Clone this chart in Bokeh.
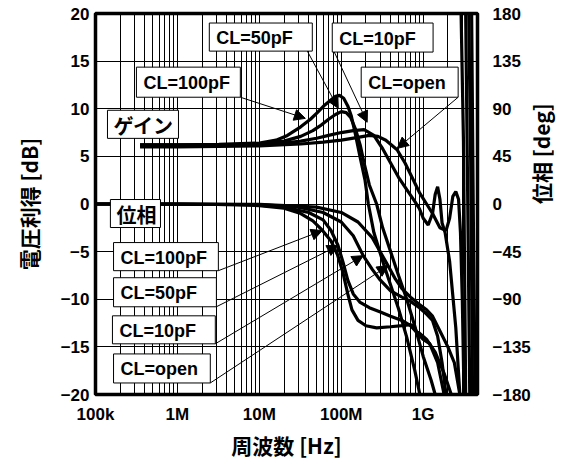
import math
from bokeh.plotting import figure
from bokeh.models import Range1d, LinearAxis, FixedTicker, Arrow, NormalHead
from bokeh.embed import file_html
from bokeh.resources import INLINE
from bokeh.core.properties import value

# ---------------- data ----------------
freq_ticks = [1e5, 1e6, 1e7, 1e8, 1e9]
freq_tick_labels = ["100k", "1M", "10M", "100M", "1G"]
gain_ticks = [-20, -15, -10, -5, 0, 5, 10, 15, 20]
phase_ticks = [-180, -135, -90, -45, 0, 45, 90, 135, 180]

# gain [dB]
g100_f = [3.5e5, 1e6, 3.2e6, 1e7, 1.6e7, 2.2e7, 3.2e7, 4.2e7, 5.1e7, 6.3e7, 7.4e7, 8.5e7, 9.5e7,
          1.07e8, 1.2e8, 1.32e8, 1.48e8, 1.7e8, 1.95e8, 2.14e8, 2.5e8, 3.2e8, 4e8, 5e8, 6.3e8, 7.9e8, 9.1e8]
g100_db = [6.2, 6.2, 6.25, 6.4, 6.7, 7.2, 8.1, 8.9, 9.6, 10.4, 10.9, 11.3, 11.4,
           11.1, 10.3, 9.3, 7.4, 4.9, 2.5, 0.0, -3.0, -6.0, -8.5, -11.0, -14.0, -17.5, -20.0]

g50_f = [3.5e5, 1e6, 3.2e6, 1e7, 2e7, 3.2e7, 4.5e7, 5.5e7, 7e7, 8.5e7, 1e8, 1.15e8, 1.3e8,
         1.5e8, 1.7e8, 1.9e8, 2.2e8, 2.7e8, 3.2e8, 4e8, 5e8, 6.3e8, 8e8, 1e9, 1.25e9, 1.4e9]
g50_db = [6.2, 6.2, 6.2, 6.3, 6.6, 7.1, 7.7, 8.2, 8.9, 9.4, 9.7, 9.6, 9.1,
          7.8, 6.2, 4.3, 2.0, 0.0, -2.5, -5.0, -7.5, -10.0, -13.0, -16.0, -18.5, -20.0]

g10_f = [3.5e5, 1e6, 3.2e6, 1e7, 2e7, 3.2e7, 5e7, 7e7, 1e8, 1.4e8, 1.9e8, 2.5e8, 3.2e8, 4e8,
         5e8, 6.3e8, 8e8, 9e8, 1e9, 1.15e9, 1.3e9, 1.4e9, 1.5e9, 1.6e9, 1.7e9, 1.85e9, 2.1e9, 2.5e9, 2.8e9]
g10_db = [6.1, 6.1, 6.15, 6.2, 6.4, 6.6, 6.9, 7.2, 7.5, 7.7, 7.8, 7.2, 5.8, 4.3,
          2.8, 1.5, 0.2, -0.5, -1.5, -2.2, -1.0, 1.0, 1.8, 0.5, -2.0, -3.0, -6.0, -13.0, -20.0]

gopen_f = [3.5e5, 1e6, 3.2e6, 1e7, 3.2e7, 6e7, 1e8, 1.6e8, 2.2e8, 2.8e8, 3.5e8, 4.8e8, 6e8,
           7.5e8, 9e8, 1.1e9, 1.3e9, 1.6e9, 1.9e9, 2.1e9, 2.3e9, 2.5e9, 2.7e9, 2.85e9, 3e9, 3.15e9]
gopen_db = [6.0, 6.0, 6.05, 6.1, 6.3, 6.5, 6.7, 7.0, 7.2, 7.1, 6.7, 5.7, 4.3,
            2.6, 1.2, 0.0, -1.0, -2.5, -2.8, -1.5, 0.8, 1.3, 0.5, -3.0, -10.0, -20.0]

# phase [deg]
p100_f = [1e5, 1e6, 5e6, 1e7, 2e7, 3.2e7, 4.5e7, 5.9e7, 7.5e7, 9e7, 1.05e8, 1.2e8, 1.35e8, 1.6e8,
          2e8, 2.7e8, 4e8, 5.5e8, 7e8, 7.8e8, 8.3e8, 9e8, 1.1e9, 1.4e9, 1.8e9, 2.2e9]
p100_deg = [0, 0, -0.5, -1.5, -4, -9, -16, -25, -35, -48, -65, -85, -100, -110,
            -115, -117, -116, -115, -114, -116, -121, -122, -128, -140, -160, -180]

p50_f = [1e5, 1e6, 1e7, 2e7, 4e7, 6e7, 7.5e7, 9.1e7, 1.05e8, 1.2e8, 1.4e8, 1.7e8, 2.2e8, 3e8,
         4e8, 5.5e8, 7e8, 8.5e8, 1e9, 1.2e9, 1.5e9, 1.8e9]
p50_deg = [0, 0, -1, -3, -8, -15, -25, -39, -55, -72, -85, -93, -98, -102,
           -106, -110, -115, -122, -128, -132, -150, -180]

p10_f = [1e5, 1e7, 3e7, 6e7, 1e8, 1.4e8, 1.86e8, 2.4e8, 3e8, 4e8, 5.5e8, 7e8, 9e8, 1.1e9,
         1.3e9, 1.5e9, 1.7e9, 1.9e9]
p10_deg = [0, -0.5, -3, -8, -17, -30, -49, -62, -72, -82, -88, -92, -98, -104,
           -110, -125, -150, -180]

popen_f = [1e5, 1e7, 5e7, 1e8, 1.6e8, 2.4e8, 3.7e8, 4.5e8, 5.5e8, 7e8, 9e8, 1.1e9, 1.3e9,
           1.6e9, 2e9, 2.4e9, 2.8e9]
popen_deg = [0, -0.3, -3, -8, -17, -32, -58, -70, -80, -88, -95, -100, -106,
             -120, -135, -150, -180]

# phase wrapped back from +180 near the top of the band
wrap_f = [[2.9e9, 3.1e9, 3.3e9], [3.3e9, 3.5e9, 3.7e9], [3.6e9, 3.8e9, 4.0e9], [3.9e9, 4.1e9, 4.3e9]]
wrap_deg = [[180, 60, -180], [180, 0, -180], [180, 40, -180], [180, -20, -180]]

# annotation boxes
box_text = ["CL=50pF", "CL=10pF", "CL=100pF", "CL=open", "ゲイン", "位相",
            "CL=100pF", "CL=50pF", "CL=10pF", "CL=open"]
box_left = [2.45e6, 7.76e7, 3.16e5, 1.75e8, 1.4e5, 1.52e5, 1.66e5, 1.66e5, 1.61e5, 1.66e5]
box_right = [4.43e7, 1.32e9, 5.86e6, 2.67e9, 1.03e6, 6.21e5, 3.16e6, 2.99e6, 2.9e6, 2.52e6]
box_bottom = [16.05, 15.95, 11.21, 11.21, 6.89, -2.47, -7.0, -10.79, -14.68, -18.79]
box_top = [19.0, 19.0, 14.37, 14.37, 9.84, 0.47, -4.05, -7.74, -11.74, -15.74]
box_is_cjk = [False, False, False, False, True, True, False, False, False, False]

# arrows (gain ones in dB, phase ones in deg)
garrow_x0 = [5.86e6, 3.85e7, 8.22e7, 2.67e9]
garrow_y0 = [11.21, 16.05, 15.95, 11.21]
garrow_x1 = [3.64e7, 9.18e7, 2.07e8, 4.82e8]
garrow_y1 = [8.99, 10.05, 8.58, 5.84]
parrow_x0 = [3.16e6, 2.99e6, 2.9e6, 2.52e6]
parrow_y0 = [-63.0, -97.1, -132.1, -169.1]
parrow_x1 = [5.86e7, 9.18e7, 1.85e8, 3.74e8]
parrow_y1 = [-25.1, -39.3, -48.8, -58.2]

# ---------------- figure ----------------
LFONT = "Liberation Sans"
JFONT = "Noto Sans CJK JP"

p = figure(width=576, height=463, x_axis_type="log",
           x_range=Range1d(1e5, 4.6e9), y_range=Range1d(-20, 20),
           output_backend="svg", toolbar_location=None,
           min_border_left=95, min_border_right=99, min_border_top=13, min_border_bottom=69)
p.extra_y_ranges = {"phase": Range1d(-180, 180)}

p.outline_line_color = "black"
p.outline_line_width = 3.5
p.background_fill_color = "white"
p.border_fill_color = "white"

minor = [m * d for d in freq_ticks for m in range(2, 10)]
p.xaxis.ticker = FixedTicker(ticks=freq_ticks, minor_ticks=minor)
p.xaxis.major_label_overrides = {float(t): l for t, l in zip(freq_ticks, freq_tick_labels)}
p.yaxis.ticker = FixedTicker(ticks=gain_ticks)
p.yaxis.major_label_overrides = {t: str(t).replace("-", "\u2212") for t in gain_ticks}

raxis = LinearAxis(y_range_name="phase", ticker=FixedTicker(ticks=phase_ticks))
raxis.major_label_overrides = {t: str(t).replace("-", "\u2212") for t in phase_ticks}
p.add_layout(raxis, "right")

for ax in [p.xaxis[0], p.yaxis[0], raxis]:
    ax.axis_line_color = None
    ax.major_tick_line_color = None
    ax.minor_tick_line_color = None
    ax.major_tick_out = 0
    ax.major_tick_in = 0
    ax.major_label_text_font = LFONT
    ax.major_label_text_font_style = "bold"
    ax.major_label_text_font_size = "17px"
    ax.major_label_text_color = "black"
    ax.axis_label_text_font = JFONT
    ax.axis_label_text_font_style = "bold"
    ax.axis_label_text_font_size = "21px"
    ax.axis_label_text_color = "black"

p.xaxis.axis_label = "周波数 [Hz]"
p.xaxis.major_label_standoff = 6
p.xaxis.axis_label_standoff = 3
p.yaxis[0].axis_label = "電圧利得 [dB]"
p.yaxis[0].major_label_standoff = 6
p.yaxis[0].axis_label_standoff = 14
raxis.axis_label = "位相 [deg]"
raxis.axis_label_orientation = math.pi / 2
raxis.major_label_standoff = 15
raxis.axis_label_standoff = 7

p.xgrid.grid_line_color = "black"
p.xgrid.grid_line_width = 1
p.xgrid.minor_grid_line_color = "black"
p.xgrid.minor_grid_line_width = 1
p.ygrid.grid_line_color = "black"
p.ygrid.grid_line_width = 1

LW = 3.2
for f, d in [(g100_f, g100_db), (g50_f, g50_db), (g10_f, g10_db), (gopen_f, gopen_db)]:
    p.line(f, d, line_color="black", line_width=LW)
for f, d in [(p100_f, p100_deg), (p50_f, p50_deg), (p10_f, p10_deg), (popen_f, popen_deg)]:
    p.line(f, d, line_color="black", line_width=LW, y_range_name="phase")
for f, d in zip(wrap_f, wrap_deg):
    p.line(f, d, line_color="black", line_width=LW, y_range_name="phase")

p.quad(left=box_left, right=box_right, bottom=box_bottom, top=box_top,
       fill_color="white", line_color="black", line_width=1)
mid_y = [(b + t) / 2 for b, t in zip(box_bottom, box_top)]
lat = [i for i, c in enumerate(box_is_cjk) if not c]
cjk = [i for i, c in enumerate(box_is_cjk) if c]
p.text(x=[box_left[i] for i in lat], y=[mid_y[i] for i in lat], text=[box_text[i] for i in lat],
       x_offset=7, y_offset=1, text_font=value(LFONT), text_font_style="bold", text_font_size="18px",
       text_baseline="middle", text_align="left", text_color="black")
p.text(x=[box_left[i] for i in cjk], y=[mid_y[i] for i in cjk], text=[box_text[i] for i in cjk],
       x_offset=6, y_offset=1, text_font=value(JFONT), text_font_style="bold", text_font_size="20px",
       text_baseline="middle", text_align="left", text_color="black")

for x0, y0, x1, y1 in zip(garrow_x0, garrow_y0, garrow_x1, garrow_y1):
    p.add_layout(Arrow(x_start=x0, y_start=y0, x_end=x1, y_end=y1, line_width=1, line_color="black",
                       end=NormalHead(size=11, fill_color="black", line_color="black", line_width=1)))
for x0, y0, x1, y1 in zip(parrow_x0, parrow_y0, parrow_x1, parrow_y1):
    p.add_layout(Arrow(x_start=x0, y_start=y0, x_end=x1, y_end=y1, line_width=1, line_color="black",
                       y_range_name="phase",
                       end=NormalHead(size=11, fill_color="black", line_color="black", line_width=1)))

open("out.html", "w").write(file_html(p, INLINE))
